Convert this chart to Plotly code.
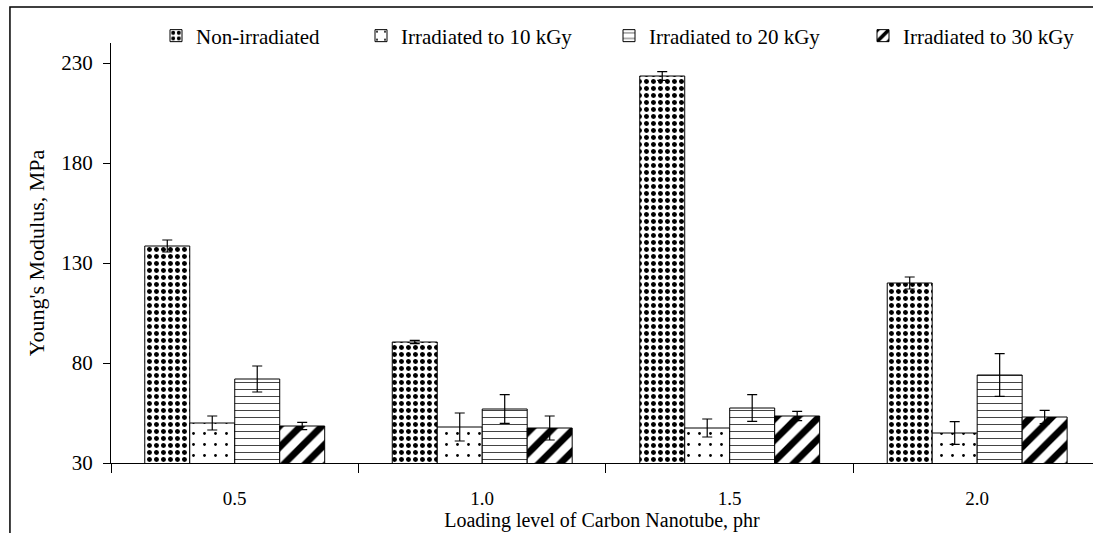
import plotly.graph_objects as go

categories = ["0.5", "1.0", "1.5", "2.0"]
series_names = ["Non-irradiated", "Irradiated to 10 kGy", "Irradiated to 20 kGy", "Irradiated to 30 kGy"]

non_irradiated = [138.5, 90.5, 223.5, 120.0]
kgy10 = [50.0, 48.0, 47.5, 45.0]
kgy20 = [72.0, 57.0, 57.5, 74.0]
kgy30 = [48.5, 47.5, 53.5, 53.0]

err_non = [3.0, 0.8, 2.2, 3.0]
err_10 = [3.5, 7.0, 4.5, 5.7]
err_20 = [6.5, 7.2, 6.7, 10.7]
err_30 = [1.8, 6.0, 2.3, 3.3]

y_ticks = [30, 80, 130, 180, 230]

values = [non_irradiated, kgy10, kgy20, kgy30]
errors = [err_non, err_10, err_20, err_30]
patterns = [
    dict(shape=".", size=7, solidity=0.4, fgcolor="black", bgcolor="white", fillmode="replace"),
    dict(shape=".", size=11, solidity=0.05, fgcolor="black", bgcolor="white", fillmode="replace"),
    dict(shape="-", size=7, solidity=0.15, fgcolor="#444444", bgcolor="white", fillmode="replace"),
    dict(shape="/", size=15, solidity=0.45, fgcolor="black", bgcolor="white", fillmode="replace"),
]

FONT = "Liberation Serif"
legend_ids = ["legend", "legend2", "legend3", "legend4"]
# legend box left edges in container fraction (marker centres ~176, 381, 629, 883 px)
legend_x = [(176 - 20) / 1093, (381 - 20) / 1093, (629 - 20) / 1093, (883 - 20) / 1093]

fig = go.Figure()
for name, vals, errs, pat, lid in zip(series_names, values, errors, patterns, legend_ids):
    fig.add_trace(go.Bar(
        x=categories, y=vals, name=name, legend=lid,
        marker=dict(color="white", pattern=pat, line=dict(color="black", width=1)),
        error_y=dict(type="data", array=errs, visible=True, color="black", thickness=1.2, width=5),
    ))

legend_common = dict(orientation="h", xref="container", yref="container", xanchor="left",
                     yanchor="middle", y=1 - 36 / 533, bgcolor="rgba(0,0,0,0)", borderwidth=0,
                     font=dict(family=FONT, size=21, color="black"))

layout_legends = {}
for lid, lx in zip(legend_ids, legend_x):
    layout_legends[lid] = dict(legend_common, x=lx)

fig.update_layout(
    width=1093, height=533,
    margin=dict(l=111, r=0, t=43, b=70, autoexpand=False),
    paper_bgcolor="white", plot_bgcolor="white",
    barmode="group", bargap=0.273, bargroupgap=0,
    font=dict(family=FONT, color="black", size=20),
    showlegend=True,
    xaxis=dict(type="category", range=[-0.5, 3.468], tickson="boundaries", ticks="outside",
               ticklen=9, tickcolor="black", showline=True, linecolor="black", linewidth=1,
               showgrid=False, tickfont=dict(family=FONT, size=19), ticklabelstandoff=18,
               title=dict(text="Loading level of Carbon Nanotube, phr", standoff=0,
                          font=dict(family=FONT, size=20))),
    yaxis=dict(range=[30, 240], tickvals=y_ticks, ticks="outside", ticklen=7, tickcolor="black",
               showline=True, linecolor="black", linewidth=1, showgrid=False, zeroline=False,
               tickfont=dict(family=FONT, size=21), ticklabelstandoff=6,
               title=dict(text="Young's Modulus, MPa", standoff=10,
                          font=dict(family=FONT, size=22))),
    shapes=[dict(type="rect", xref="paper", yref="paper", x0=-0.1029, x1=1.05, y0=-0.3, y1=1.0857,
                 line=dict(color="black", width=1.5), fillcolor="rgba(0,0,0,0)", layer="above")],
    **layout_legends,
)

fig.write_html("out.html")
